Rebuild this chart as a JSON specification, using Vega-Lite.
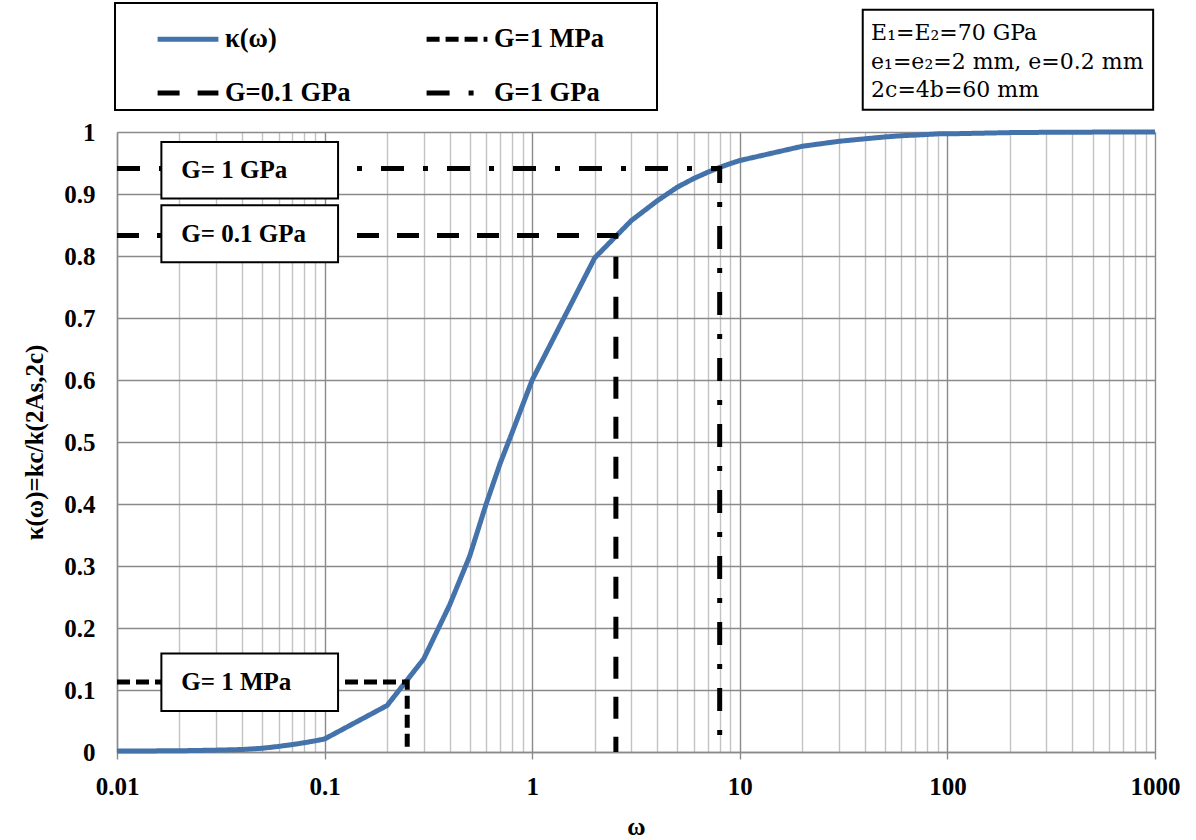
{
  "$schema": "https://vega.github.io/schema/vega-lite/v6.json",
  "width": 1038,
  "height": 620,
  "autosize": {"type": "none"},
  "padding": {"left": 117, "top": 132, "right": 41, "bottom": 88},
  "background": "white",
  "config": {
    "view": {"stroke": null},
    "legend": {
      "orient": "none",
      "legendX": -2,
      "legendY": -129,
      "columns": 2,
      "direction": "horizontal",
      "symbolType": "stroke",
      "symbolSize": 3700,
      "symbolStrokeWidth": 5,
      "labelFont": "Liberation Serif",
      "labelFontSize": 26.5,
      "labelFontWeight": "bold",
      "labelColor": "black",
      "labelOffset": 4,
      "labelLimit": 400,
      "symbolOffset": 37,
      "columnPadding": 36,
      "rowPadding": 7,
      "padding": 3,
      "strokeColor": "black",
      "strokeWidth": 2,
      "fillColor": "white",
      "gridAlign": "all",
      "titleOrient": "right",
      "titlePadding": 50,
      "titleFontSize": 10
    }
  },
  "data": {
    "values": [
      {"series": "κ(ω)", "i": 1, "w": 0.01, "k": 0.0015},
      {"series": "κ(ω)", "i": 2, "w": 0.02, "k": 0.002},
      {"series": "κ(ω)", "i": 3, "w": 0.03, "k": 0.003},
      {"series": "κ(ω)", "i": 4, "w": 0.04, "k": 0.004},
      {"series": "κ(ω)", "i": 5, "w": 0.05, "k": 0.006},
      {"series": "κ(ω)", "i": 6, "w": 0.06, "k": 0.009},
      {"series": "κ(ω)", "i": 7, "w": 0.07, "k": 0.012},
      {"series": "κ(ω)", "i": 8, "w": 0.08, "k": 0.015},
      {"series": "κ(ω)", "i": 9, "w": 0.09, "k": 0.018},
      {"series": "κ(ω)", "i": 10, "w": 0.1, "k": 0.021},
      {"series": "κ(ω)", "i": 11, "w": 0.2, "k": 0.075},
      {"series": "κ(ω)", "i": 12, "w": 0.3, "k": 0.15},
      {"series": "κ(ω)", "i": 13, "w": 0.4, "k": 0.237},
      {"series": "κ(ω)", "i": 14, "w": 0.5, "k": 0.316},
      {"series": "κ(ω)", "i": 15, "w": 0.6, "k": 0.4},
      {"series": "κ(ω)", "i": 16, "w": 0.7, "k": 0.465},
      {"series": "κ(ω)", "i": 17, "w": 0.8, "k": 0.515},
      {"series": "κ(ω)", "i": 18, "w": 0.9, "k": 0.56},
      {"series": "κ(ω)", "i": 19, "w": 1, "k": 0.6},
      {"series": "κ(ω)", "i": 20, "w": 2, "k": 0.797},
      {"series": "κ(ω)", "i": 21, "w": 3, "k": 0.857},
      {"series": "κ(ω)", "i": 22, "w": 4, "k": 0.889},
      {"series": "κ(ω)", "i": 23, "w": 5, "k": 0.911},
      {"series": "κ(ω)", "i": 24, "w": 6, "k": 0.925},
      {"series": "κ(ω)", "i": 25, "w": 7, "k": 0.935},
      {"series": "κ(ω)", "i": 26, "w": 8, "k": 0.943},
      {"series": "κ(ω)", "i": 27, "w": 9, "k": 0.949},
      {"series": "κ(ω)", "i": 28, "w": 10, "k": 0.954},
      {"series": "κ(ω)", "i": 29, "w": 20, "k": 0.977},
      {"series": "κ(ω)", "i": 30, "w": 30, "k": 0.985},
      {"series": "κ(ω)", "i": 31, "w": 40, "k": 0.989},
      {"series": "κ(ω)", "i": 32, "w": 50, "k": 0.992},
      {"series": "κ(ω)", "i": 33, "w": 60, "k": 0.994},
      {"series": "κ(ω)", "i": 34, "w": 70, "k": 0.995},
      {"series": "κ(ω)", "i": 35, "w": 80, "k": 0.996},
      {"series": "κ(ω)", "i": 36, "w": 90, "k": 0.997},
      {"series": "κ(ω)", "i": 37, "w": 100, "k": 0.997},
      {"series": "κ(ω)", "i": 38, "w": 200, "k": 0.999},
      {"series": "κ(ω)", "i": 39, "w": 300, "k": 0.9995},
      {"series": "κ(ω)", "i": 40, "w": 400, "k": 0.9997},
      {"series": "κ(ω)", "i": 41, "w": 500, "k": 0.9998},
      {"series": "κ(ω)", "i": 42, "w": 600, "k": 0.9998},
      {"series": "κ(ω)", "i": 43, "w": 700, "k": 0.9999},
      {"series": "κ(ω)", "i": 44, "w": 800, "k": 0.9999},
      {"series": "κ(ω)", "i": 45, "w": 900, "k": 0.9999},
      {"series": "κ(ω)", "i": 46, "w": 1000, "k": 1.0},
      {"series": "G=1 MPa", "i": 1, "w": 0.01, "k": 0.113},
      {"series": "G=1 MPa", "i": 2, "w": 0.25, "k": 0.113},
      {"series": "G=1 MPa", "i": 3, "w": 0.25, "k": 0},
      {"series": "G=0.1 GPa", "i": 1, "w": 0.01, "k": 0.833},
      {"series": "G=0.1 GPa", "i": 2, "w": 2.53, "k": 0.833},
      {"series": "G=0.1 GPa", "i": 3, "w": 2.53, "k": 0},
      {"series": "G=1 GPa", "i": 1, "w": 0.01, "k": 0.941},
      {"series": "G=1 GPa", "i": 2, "w": 8.0, "k": 0.941},
      {"series": "G=1 GPa", "i": 3, "w": 8.0, "k": 0}
    ]
  },
  "layer": [
    {
      "mark": {"type": "line", "strokeWidth": 5, "strokeCap": "butt", "strokeJoin": "miter"},
      "encoding": {
        "x": {
          "field": "w",
          "type": "quantitative",
          "scale": {"type": "log", "domain": [0.01, 1000], "nice": false},
          "axis": {
            "values": [0.01,0.02,0.03,0.04,0.05,0.06,0.07,0.08,0.09,0.1,0.2,0.3,0.4,0.5,0.6,0.7,0.8,0.9,1,2,3,4,5,6,7,8,9,10,20,30,40,50,60,70,80,90,100,200,300,400,500,600,700,800,900,1000],
            "format": "~g",
            "labelExpr": "indexof([0.01,0.1,1,10,100,1000], datum.value) >= 0 ? datum.label : ''",
            "labelOverlap": false,
            "labelFlush": false,
            "labelBound": false,
            "labelFont": "Liberation Serif",
            "labelFontSize": 25,
            "labelFontWeight": "bold",
            "labelColor": "black",
            "labelPadding": 15,
            "grid": true,
            "gridColor": {"condition": {"test": "indexof([0.01,0.1,1,10,100,1000], datum.value) >= 0", "value": "#8a8a8a"}, "value": "#c2c2c2"},
            "gridWidth": 1.4,
            "ticks": true,
            "tickSize": 7,
            "tickColor": "#8a8a8a",
            "tickWidth": 1.4,
            "tickOpacity": {"condition": {"test": "indexof([0.01,0.1,1,10,100,1000], datum.value) >= 0", "value": 1}, "value": 0},
            "domainColor": "#8a8a8a",
            "domainWidth": 1.4,
            "title": "ω",
            "titleFont": "Liberation Serif",
            "titleFontSize": 25,
            "titleFontWeight": "bold",
            "titleColor": "black",
            "titlePadding": 15
          }
        },
        "y": {
          "field": "k",
          "type": "quantitative",
          "scale": {"domain": [0, 1], "nice": false},
          "axis": {
            "values": [0,0.1,0.2,0.3,0.4,0.5,0.6,0.7,0.8,0.9,1],
            "format": ".1~f",
            "labelFont": "Liberation Serif",
            "labelFontSize": 25,
            "labelFontWeight": "bold",
            "labelColor": "black",
            "labelPadding": 22,
            "ticks": false,
            "grid": true,
            "gridColor": "#8a8a8a",
            "gridWidth": 1.4,
            "domainColor": "#8a8a8a",
            "domainWidth": 1.4,
            "title": "κ(ω)=kc/k(2As,2c)",
            "titleFont": "Liberation Serif",
            "titleFontSize": 25,
            "titleFontWeight": "bold",
            "titleColor": "black",
            "titlePadding": 16
          }
        },
        "color": {
          "field": "series",
          "type": "nominal",
          "scale": {"domain": ["κ(ω)", "G=1 MPa", "G=0.1 GPa", "G=1 GPa"], "range": ["#4472AA", "black", "black", "black"]},
          "legend": {"title": " "}
        },
        "strokeDash": {
          "field": "series",
          "type": "nominal",
          "scale": {"domain": ["κ(ω)", "G=1 MPa", "G=0.1 GPa", "G=1 GPa"], "range": [[1, 0], [13, 6], [22, 18], [23, 19, 5, 19]]},
          "legend": {"title": " "}
        },
        "order": {"field": "i", "type": "quantitative"}
      }
    },
    {
      "data": {"values": [{"note": "G= 1 GPa"}]},
      "mark": {"type": "rect", "fill": "white", "stroke": "black", "strokeWidth": 2},
      "encoding": {
        "x": {"datum": 0.01636}, "x2": {"datum": 0.1161},
        "y": {"datum": 0.984}, "y2": {"datum": 0.8926}
      }
    },
    {
      "data": {"values": [{"note": "G= 1 GPa"}]},
      "mark": {"type": "text", "align": "left", "baseline": "middle", "font": "Liberation Serif", "fontSize": 25, "fontWeight": "bold", "color": "black"},
      "encoding": {"x": {"datum": 0.0204}, "y": {"datum": 0.938}, "text": {"field": "note"}}
    },
    {
      "data": {"values": [{"note": "G= 0.1 GPa"}]},
      "mark": {"type": "rect", "fill": "white", "stroke": "black", "strokeWidth": 2},
      "encoding": {
        "x": {"datum": 0.01636}, "x2": {"datum": 0.1161},
        "y": {"datum": 0.8818}, "y2": {"datum": 0.790}
      }
    },
    {
      "data": {"values": [{"note": "G= 0.1 GPa"}]},
      "mark": {"type": "text", "align": "left", "baseline": "middle", "font": "Liberation Serif", "fontSize": 25, "fontWeight": "bold", "color": "black"},
      "encoding": {"x": {"datum": 0.0204}, "y": {"datum": 0.836}, "text": {"field": "note"}}
    },
    {
      "data": {"values": [{"note": "G= 1 MPa"}]},
      "mark": {"type": "rect", "fill": "white", "stroke": "black", "strokeWidth": 2},
      "encoding": {
        "x": {"datum": 0.01636}, "x2": {"datum": 0.1161},
        "y": {"datum": 0.1587}, "y2": {"datum": 0.0661}
      }
    },
    {
      "data": {"values": [{"note": "G= 1 MPa"}]},
      "mark": {"type": "text", "align": "left", "baseline": "middle", "font": "Liberation Serif", "fontSize": 25, "fontWeight": "bold", "color": "black"},
      "encoding": {"x": {"datum": 0.0204}, "y": {"datum": 0.1124}, "text": {"field": "note"}}
    },
    {
      "data": {"values": [{"note": ["E₁=E₂=70 GPa", "e₁=e₂=2 mm, e=0.2 mm", "2c=4b=60 mm"]}]},
      "mark": {"type": "rect", "fill": "white", "stroke": "black", "strokeWidth": 2},
      "encoding": {
        "x": {"datum": 39.1}, "x2": {"datum": 979.6},
        "y": {"datum": 1.036}, "y2": {"datum": 1.197}
      }
    },
    {
      "data": {"values": [{"note": ["E₁=E₂=70 GPa", "e₁=e₂=2 mm, e=0.2 mm", "2c=4b=60 mm"]}]},
      "mark": {"type": "text", "align": "left", "baseline": "middle", "font": "DejaVu Serif", "fontSize": 22, "lineHeight": 28.5, "color": "black"},
      "encoding": {"x": {"datum": 42.9}, "y": {"datum": 1.159}, "text": {"field": "note"}}
    }
  ]
}
